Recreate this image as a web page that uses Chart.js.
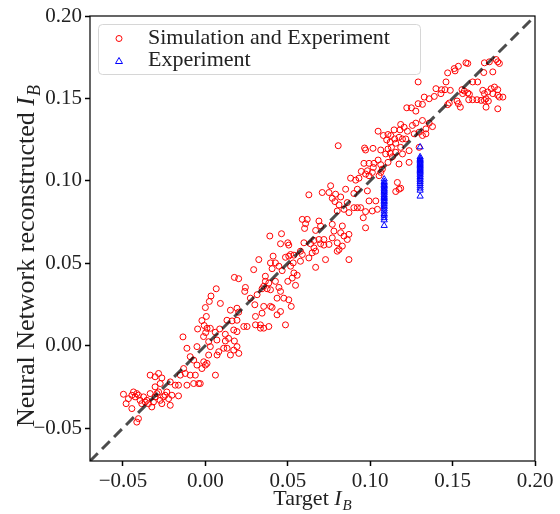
<!DOCTYPE html>
<html>
<head>
<meta charset="utf-8">
<script src="https://cdn.jsdelivr.net/npm/chart.js@4.4.0/dist/chart.umd.min.js"></script>
<style>
  html, body { margin: 0; padding: 0; background: #fff; }
</style>
</head>
<body>
<canvas id="chart" width="560" height="514"></canvas>
<script>
// axis ticks / range
var xTicks = [-0.05, 0.00, 0.05, 0.10, 0.15, 0.20];
var yTicks = [-0.05, 0.00, 0.05, 0.10, 0.15, 0.20];
var axisMin = -0.07, axisMax = 0.20;

// red circles: "Simulation and Experiment"
var simulation = [
  [-0.0497,-0.0295],[-0.0481,-0.0352],[-0.0467,-0.0322],[-0.0446,-0.0301],[-0.0436,-0.0281],[-0.0426,-0.0311],
  [-0.0416,-0.0291],[-0.0406,-0.0301],[-0.0396,-0.0332],[-0.0386,-0.0352],[-0.0375,-0.0311],[-0.0365,-0.0342],
  [-0.0355,-0.0332],[-0.0345,-0.0352],[-0.0335,-0.0291],[-0.0325,-0.0372],[-0.0315,-0.0342],[-0.0305,-0.0311],
  [-0.0294,-0.0291],[-0.0284,-0.0281],[-0.0274,-0.0332],[-0.0264,-0.0352],[-0.0254,-0.0311],[-0.0244,-0.0301],
  [-0.0234,-0.0281],[-0.0223,-0.0322],[-0.0213,-0.0362],[-0.0203,-0.0301],[-0.0446,-0.0382],[-0.0416,-0.0464],
  [-0.0406,-0.0443],[-0.0163,-0.0305],[-0.0335,-0.0179],[-0.0305,-0.0189],[-0.0284,-0.0169],[-0.0264,-0.0196],
  [-0.0274,-0.0230],[-0.0305,-0.0250],[-0.0213,-0.0220],[-0.0183,-0.0240],[-0.0163,-0.0240],[-0.0152,-0.0179],
  [-0.0132,-0.0139],[-0.0122,-0.0169],[-0.0112,-0.0240],[-0.0092,-0.0179],[-0.0071,-0.0230],[-0.0061,-0.0179],
  [-0.0051,-0.0118],[-0.0041,-0.0230],[-0.0031,-0.0230],[-0.0021,-0.0139],[-0.0010,-0.0098],[0.0000,-0.0118],
  [0.0010,-0.0108],[0.0020,-0.0057],[0.0030,-0.0006],[-0.0112,-0.0016],[-0.0092,-0.0067],[-0.0071,-0.0088],
  [0.0061,-0.0179],[0.0071,-0.0057],[0.0081,-0.0037],[0.0111,-0.0016],[0.0132,-0.0016],[0.0152,-0.0057],
  [0.0172,-0.0027],[0.0192,-0.0006],[0.0203,-0.0047],[-0.0051,-0.0006],
  [0.0176,0.0414],[0.0202,0.0406],[0.0066,0.0345],[0.0034,0.0301],[0.0024,0.0268],[0.0000,0.0231],
  [0.0091,0.0256],[0.0006,0.0177],[-0.0021,0.0152],[-0.0007,0.0122],[0.0010,0.0105],[-0.0047,0.0101],
  [0.0030,0.0105],[0.0002,0.0079],[-0.0011,0.0055],[0.0060,0.0081],[0.0087,0.0101],[0.0121,0.0069],
  [0.0152,0.0215],[0.0192,0.0227],[0.0202,0.0203],[0.0131,0.0154],[0.0162,0.0150],[0.0192,0.0154],
  [0.0172,0.0095],[0.0192,0.0085],[0.0070,0.0034],[0.0020,0.0024],[-0.0136,0.0053],[0.0121,0.0028],
  [0.0176,0.0028],[0.0141,0.0044],
  [0.0760,0.0970],[0.0851,0.0949],[0.0709,0.0929],[0.0750,0.0929],[0.0790,0.0919],[0.0821,0.0902],
  [0.0770,0.0894],[0.0628,0.0915],[0.0786,0.0874],[0.0811,0.0854],[0.0861,0.0868],[0.0841,0.0827],
  [0.0871,0.0807],[0.0800,0.0817],[0.0588,0.0766],[0.0618,0.0766],[0.0608,0.0740],[0.0602,0.0711],
  [0.0689,0.0756],[0.0699,0.0726],[0.0669,0.0699],[0.0770,0.0736],[0.0831,0.0726],[0.0780,0.0695],
  [0.0821,0.0685],[0.0841,0.0665],[0.0871,0.0675],[0.0861,0.0644],[0.0770,0.0654],[0.0750,0.0614],
  [0.0800,0.0624],[0.0811,0.0583],[0.0831,0.0604],[0.0719,0.0644],[0.0689,0.0644],[0.0659,0.0638],
  [0.0638,0.0618],[0.0659,0.0593],[0.0669,0.0573],[0.0648,0.0563],[0.0699,0.0618],[0.0719,0.0610],
  [0.0598,0.0624],[0.0577,0.0573],[0.0588,0.0553],[0.0628,0.0532],[0.0729,0.0522],[0.0669,0.0475],
  [0.0871,0.0522],[0.0800,0.0573],[0.0391,0.0665],[0.0462,0.0679],[0.0456,0.0618],[0.0500,0.0624],
  [0.0506,0.0610],[0.0411,0.0543],[0.0324,0.0522],[0.0293,0.0461],[0.0395,0.0502],[0.0425,0.0502],
  [0.0446,0.0482],[0.0405,0.0467],[0.0466,0.0455],[0.0486,0.0536],[0.0506,0.0543],[0.0517,0.0553],
  [0.0537,0.0549],[0.0533,0.0502],[0.0517,0.0482],[0.0577,0.0512],[0.0537,0.0441],[0.0557,0.0427],
  [0.0527,0.0410],[0.0500,0.0390],[0.0547,0.0366],[0.0446,0.0353],[0.0456,0.0329],[0.0425,0.0390],
  [0.0385,0.0380],[0.0364,0.0421],[0.0364,0.0390],[0.0354,0.0360],[0.0344,0.0345],[0.0375,0.0345],
  [0.0395,0.0339],[0.0314,0.0309],[0.0300,0.0248],[0.0273,0.0288],[0.0243,0.0353],[0.0239,0.0329],
  [0.0435,0.0288],[0.0476,0.0288],[0.0506,0.0278],[0.0521,0.0238],[0.0395,0.0238],[0.0405,0.0232],
  [0.0354,0.0238],[0.0344,0.0197],[0.0304,0.0177],[0.0456,0.0207],[0.0435,0.0187],[0.0233,0.0116],
  [0.0253,0.0116],[0.0304,0.0126],[0.0334,0.0106],[0.0354,0.0106],[0.0385,0.0116],[0.0486,0.0126],
  [0.0334,0.0126],
  [0.1222,0.1443],[0.1250,0.1443],[0.1277,0.1423],[0.1291,0.1468],[0.1317,0.1464],[0.1317,0.1366],
  [0.1358,0.1350],[0.1378,0.1329],[0.1338,0.1315],[0.1277,0.1350],[0.1256,0.1336],[0.1185,0.1342],
  [0.1206,0.1325],[0.1181,0.1309],[0.1145,0.1309],[0.1226,0.1301],[0.1267,0.1285],[0.1297,0.1295],
  [0.1317,0.1275],[0.1338,0.1285],[0.1048,0.1301],[0.1080,0.1275],[0.1108,0.1281],[0.1125,0.1275],
  [0.1100,0.1248],[0.1121,0.1234],[0.1149,0.1254],[0.1175,0.1264],[0.1196,0.1254],[0.1216,0.1254],
  [0.1155,0.1228],[0.1129,0.1203],[0.1108,0.1193],[0.1185,0.1203],[0.1236,0.1183],[0.1297,0.1203],
  [0.0806,0.1213],[0.0966,0.1199],[0.0972,0.1187],[0.1017,0.1197],[0.1064,0.1187],[0.1094,0.1163],
  [0.1121,0.1167],[0.1155,0.1173],[0.1196,0.1163],[0.1135,0.1146],[0.0962,0.1106],[0.0993,0.1106],
  [0.1023,0.1106],[0.1048,0.1126],[0.1064,0.1098],[0.1019,0.1081],[0.0983,0.1061],[0.1074,0.1071],
  [0.1108,0.1112],[0.1175,0.1102],[0.1236,0.1112],[0.1064,0.1051],[0.1054,0.1031],[0.1013,0.1051],
  [0.0972,0.1041],[0.0946,0.1057],[0.0881,0.1016],[0.0912,0.1004],[0.0932,0.1016],[0.0993,0.1031],
  [0.1165,0.0990],[0.1175,0.0949],[0.1185,0.0955],[0.1155,0.0935],[0.0901,0.0923],[0.0922,0.0949],
  [0.0983,0.0939],[0.0993,0.0878],[0.0901,0.0837],[0.0922,0.0837],[0.0942,0.0837],[0.0972,0.0813],
  [0.1013,0.0817],[0.1044,0.0827],[0.0958,0.0776],[0.0972,0.0715],[0.1034,0.0878],
  [0.1581,0.1716],[0.1592,0.1712],[0.1535,0.1695],[0.1510,0.1681],[0.1470,0.1655],[0.1515,0.1667],
  [0.1693,0.1716],[0.1723,0.1722],[0.1764,0.1736],[0.1774,0.1722],[0.1784,0.1712],[0.1744,0.1661],
  [0.1689,0.1657],[0.1622,0.1600],[0.1652,0.1600],[0.1291,0.1600],[0.1460,0.1600],[0.1399,0.1559],
  [0.1433,0.1553],[0.1454,0.1553],[0.1486,0.1549],[0.1429,0.1529],[0.1557,0.1553],[0.1571,0.1545],
  [0.1592,0.1533],[0.1561,0.1529],[0.1602,0.1525],[0.1683,0.1549],[0.1693,0.1529],[0.1734,0.1559],
  [0.1713,0.1539],[0.1754,0.1569],[0.1774,0.1553],[0.1744,0.1529],[0.1703,0.1498],[0.1693,0.1488],
  [0.1717,0.1484],[0.1673,0.1488],[0.1648,0.1492],[0.1622,0.1492],[0.1598,0.1492],[0.1527,0.1484],
  [0.1535,0.1468],[0.1547,0.1447],[0.1480,0.1472],[0.1470,0.1462],[0.1328,0.1508],[0.1358,0.1498],
  [0.1389,0.1512],[0.1774,0.1519],[0.1784,0.1508],[0.1805,0.1508],[0.1774,0.1437],[0.1703,0.1447]
];

// blue triangles: "Experiment"
var experiment = [
  [0.1085,0.1010],[0.1085,0.0995],[0.1085,0.0985],[0.1085,0.0975],[0.1085,0.0968],[0.1085,0.0960],
  [0.1085,0.0950],[0.1085,0.0942],[0.1085,0.0935],[0.1085,0.0925],[0.1085,0.0915],[0.1085,0.0905],
  [0.1085,0.0898],[0.1085,0.0890],[0.1085,0.0880],[0.1085,0.0872],[0.1085,0.0862],[0.1085,0.0850],
  [0.1085,0.0840],[0.1085,0.0828],[0.1085,0.0815],[0.1085,0.0800],[0.1085,0.0790],[0.1085,0.0775],
  [0.1085,0.0762],[0.1085,0.0728],
  [0.1303,0.1205],[0.1303,0.1145],[0.1303,0.1135],[0.1303,0.1127],[0.1303,0.1120],[0.1303,0.1112],
  [0.1303,0.1105],[0.1303,0.1098],[0.1303,0.1090],[0.1303,0.1082],[0.1303,0.1075],[0.1303,0.1068],
  [0.1303,0.1060],[0.1303,0.1052],[0.1303,0.1045],[0.1303,0.1035],[0.1303,0.1025],[0.1303,0.1015],
  [0.1303,0.1005],[0.1303,0.0995],[0.1303,0.0982],[0.1303,0.0968],[0.1303,0.0955],[0.1303,0.0942],
  [0.1303,0.0906]
];

// y = x reference line
var identity = [[-0.07, -0.07], [0.20, 0.20]];

var serif = '"Liberation Serif", "DejaVu Serif", serif';

function toXY(arr) {
  return arr.map(function (p) { return { x: p[0], y: p[1] }; });
}
function fmt(v) {
  var s = Math.abs(v).toFixed(2);
  return v < -1e-9 ? '\u2212' + s : s;
}

// label with italic I and subscript B
function drawIB(ctx, prefix, cx, baseline, size) {
  var f1 = size + 'px ' + serif;
  var f2 = 'italic ' + size + 'px ' + serif;
  var f3 = 'italic ' + Math.round(size * 0.7) + 'px ' + serif;
  ctx.font = f1; var w1 = ctx.measureText(prefix).width;
  ctx.font = f2; var w2 = ctx.measureText('I').width;
  ctx.font = f3; var w3 = ctx.measureText('B').width;
  var x = cx - (w1 + w2 + w3 + 1) / 2;
  ctx.textAlign = 'left';
  ctx.textBaseline = 'alphabetic';
  ctx.font = f1; ctx.fillText(prefix, x, baseline);
  ctx.font = f2; ctx.fillText('I', x + w1, baseline);
  ctx.font = f3; ctx.fillText('B', x + w1 + w2 + 1, baseline + size * 0.22);
}

var decor = {
  id: 'decor',
  afterDraw: function (chart) {
    var ctx = chart.ctx, a = chart.chartArea;
    ctx.save();
    // frame
    ctx.strokeStyle = '#000';
    ctx.lineWidth = 1.2;
    ctx.strokeRect(a.left, a.top, a.right - a.left, a.bottom - a.top);

    // axis titles
    ctx.fillStyle = '#222';
    drawIB(ctx, 'Target ', (a.left + a.right) / 2, 505, 22);
    ctx.save();
    ctx.translate(34, 256);
    ctx.rotate(-Math.PI / 2);
    drawIB(ctx, 'Neural Network reconstructed ', 0, 0, 26);
    ctx.restore();

    // legend
    var lx = 98.5, ly = 24.5, lw = 322, lh = 50, r = 4;
    ctx.beginPath();
    ctx.moveTo(lx + r, ly);
    ctx.arcTo(lx + lw, ly, lx + lw, ly + lh, r);
    ctx.arcTo(lx + lw, ly + lh, lx, ly + lh, r);
    ctx.arcTo(lx, ly + lh, lx, ly, r);
    ctx.arcTo(lx, ly, lx + lw, ly, r);
    ctx.closePath();
    ctx.fillStyle = 'rgba(255,255,255,0.8)';
    ctx.fill();
    ctx.strokeStyle = '#d6d6d6';
    ctx.lineWidth = 1;
    ctx.stroke();

    ctx.lineWidth = 1;
    ctx.strokeStyle = '#ff0000';
    ctx.beginPath();
    ctx.arc(119, 38.5, 3, 0, Math.PI * 2);
    ctx.stroke();
    ctx.strokeStyle = '#0000ff';
    ctx.beginPath();
    ctx.moveTo(119, 57.5);
    ctx.lineTo(122.5, 63.5);
    ctx.lineTo(115.5, 63.5);
    ctx.closePath();
    ctx.stroke();

    ctx.fillStyle = '#222';
    ctx.font = '22px ' + serif;
    ctx.textAlign = 'left';
    ctx.textBaseline = 'alphabetic';
    ctx.fillText('Simulation and Experiment', 148, 44);
    ctx.fillText('Experiment', 148, 66);
    ctx.restore();
  }
};

var tickFont = { family: serif, size: 21 };

new Chart(document.getElementById('chart').getContext('2d'), {
  type: 'scatter',
  data: {
    datasets: [
      {
        type: 'line',
        data: toXY(identity),
        borderColor: 'rgba(0,0,0,0.7)',
        borderWidth: 3,
        borderDash: [11, 6],
        pointRadius: 0,
        fill: false,
        order: 0
      },
      {
        label: 'Experiment',
        data: toXY(experiment),
        pointStyle: 'triangle',
        pointRadius: 3.6,
        borderColor: '#0000ff',
        backgroundColor: 'rgba(0,0,0,0)',
        borderWidth: 1,
        order: 1
      },
      {
        label: 'Simulation and Experiment',
        data: toXY(simulation),
        pointStyle: 'circle',
        pointRadius: 3,
        borderColor: '#ff0000',
        backgroundColor: 'rgba(0,0,0,0)',
        borderWidth: 1,
        order: 2
      }
    ]
  },
  options: {
    responsive: false,
    animation: false,
    events: [],
    layout: { padding: { left: 0, top: 16, right: 25, bottom: 0 } },
    plugins: { legend: { display: false }, tooltip: { enabled: false } },
    scales: {
      x: {
        type: 'linear',
        min: axisMin,
        max: axisMax,
        afterBuildTicks: function (s) { s.ticks = xTicks.map(function (v) { return { value: v }; }); },
        afterFit: function (s) { s.height = 53; s.paddingLeft = 0; s.paddingRight = 0; },
        ticks: { callback: fmt, color: '#222', font: tickFont, padding: 3, maxRotation: 0, autoSkip: false },
        grid: { drawOnChartArea: false, drawTicks: true, tickLength: 5, tickWidth: 1.5, tickColor: '#000' },
        border: { display: false }
      },
      y: {
        type: 'linear',
        min: axisMin,
        max: axisMax,
        afterBuildTicks: function (s) { s.ticks = yTicks.map(function (v) { return { value: v }; }); },
        afterFit: function (s) { s.width = 90; s.paddingTop = 0; s.paddingBottom = 0; },
        ticks: { callback: fmt, color: '#222', font: tickFont, padding: 3, autoSkip: false },
        grid: { drawOnChartArea: false, drawTicks: true, tickLength: 5, tickWidth: 1.5, tickColor: '#000' },
        border: { display: false }
      }
    }
  },
  plugins: [decor]
});
</script>
</body>
</html>
